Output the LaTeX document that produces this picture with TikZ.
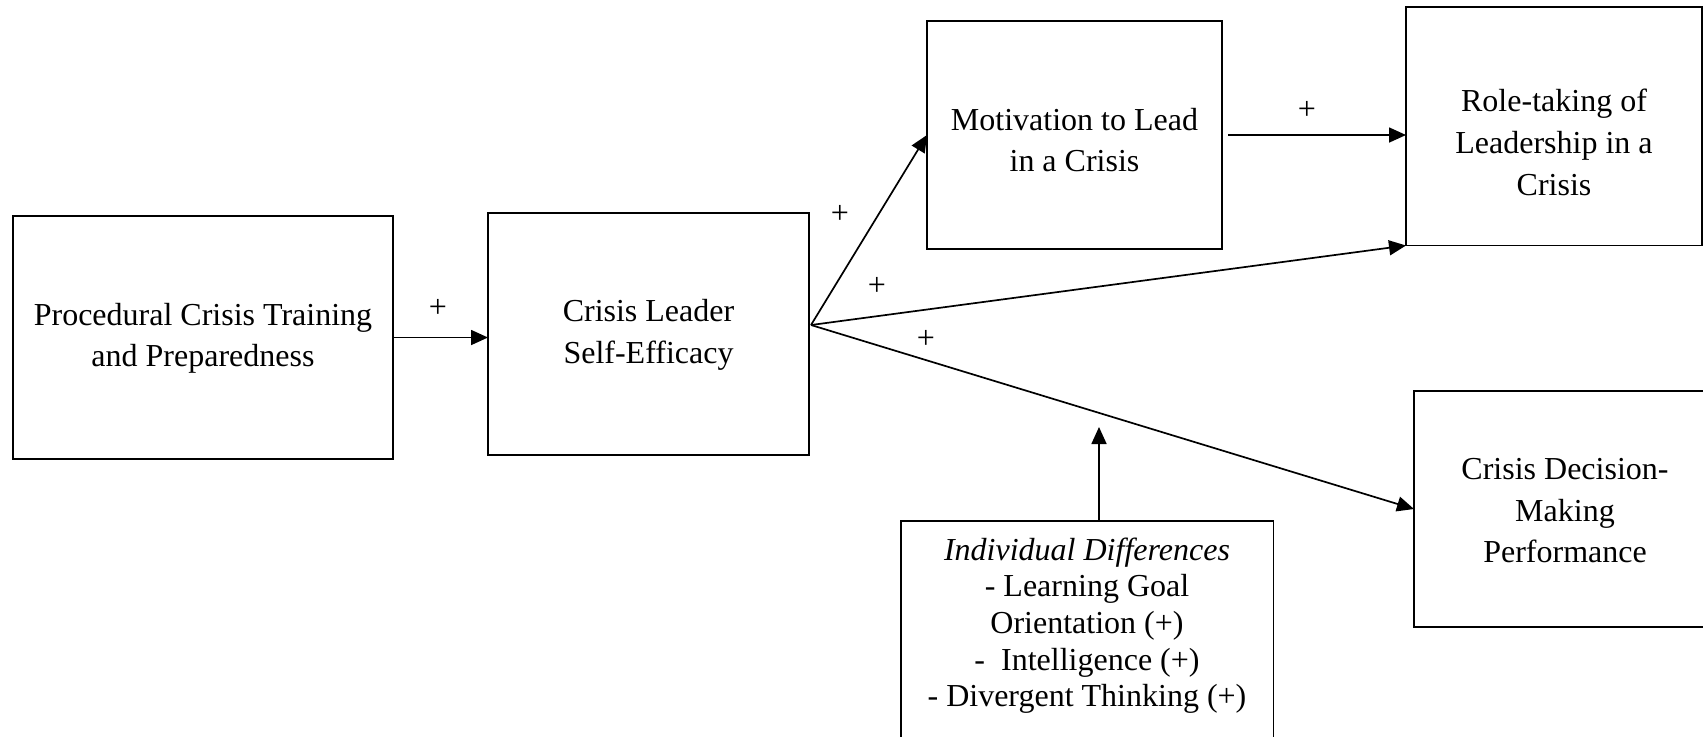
\documentclass[tikz,border=0pt]{standalone}
\usepackage{fontspec}
\setmainfont{Liberation Serif}
\usetikzlibrary{arrows.meta}
\tikzset{
  box/.style={draw, line width=0.85pt, rectangle, inner sep=0pt, outer sep=0pt},
  txt/.style={align=center, inner sep=0pt, font=\fontsize{16pt}{20.8pt}\selectfont, anchor=base},
  txtB/.style={align=center, inner sep=0pt, font=\fontsize{16pt}{18.3pt}\selectfont, anchor=base},
  plus/.style={inner sep=0pt, font=\fontsize{16pt}{18pt}\selectfont},
  arr/.style={line width=0.85pt, -{Triangle[length=8.5pt,width=7.5pt]}}
}
\begin{document}
\begin{tikzpicture}[x=0.5pt, y=-0.5pt]
\useasboundingbox (0,0) rectangle (1703,736);
\clip (0,0) rectangle (1703,736);
% boxes
\node[box, minimum width=190pt, minimum height=121.5pt] (b1) at (203,337.5) {};
\node[box, minimum width=160.5pt, minimum height=121pt] (b2) at (648.5,334) {};
\node[box, minimum width=147.5pt, minimum height=114pt] (b3) at (1074.5,135) {};
\node[box, minimum width=148pt, minimum height=119.25pt] (b4) at (1554,126.25) {};
\node[box, minimum width=151pt, minimum height=118pt] (b5) at (1565,509) {};
\node[box, minimum width=186.25pt, minimum height=129.5pt] (b6) at (1087.25,650.5) {};
% texts (anchored at the baseline of their last line)
\node[txt] (t1) at (203,366.7) {Procedural Crisis Training\\and Preparedness};
\node[txt] (t2) at (648.5,363.3) {Crisis Leader\\Self-Efficacy};
\node[txt] (t3) at (1074.5,171.7) {Motivation to Lead\\in a Crisis};
\node[txt] (t4) at (1554,195) {Role-taking of\\Leadership in a\\Crisis};
\node[txt] (t5) at (1565,562.6) {Crisis Decision-\\Making\\Performance};
\node[txtB] (t6) at (1087,706.7) {\textit{Individual Differences}\\- Learning Goal\\Orientation (+)\\-\ \ Intelligence (+)\\- Divergent Thinking (+)};
% plus labels
\node[plus] (p1) at (438,308) {+};
\node[plus] (p2) at (840,214) {+};
\node[plus] (p3) at (877,286) {+};
\node[plus] (p4) at (926,339) {+};
\node[plus] (p5) at (1307,110) {+};
% connectors
\coordinate (fork) at (811,325);
\coordinate (modtip) at (1099,427);
\draw[arr] (b1.east) -- (b1.east -| b2.west);
\draw[arr] (fork) -- (b3.west);
\draw[arr] (fork) -- (b4.south west);
\draw[arr] (fork) -- (b5.west);
\draw[arr, shorten <=3pt] (b3.east) -- (b3.east -| b4.west);
\draw[arr] (b6.north -| modtip) -- (modtip);
\end{tikzpicture}
\end{document}
